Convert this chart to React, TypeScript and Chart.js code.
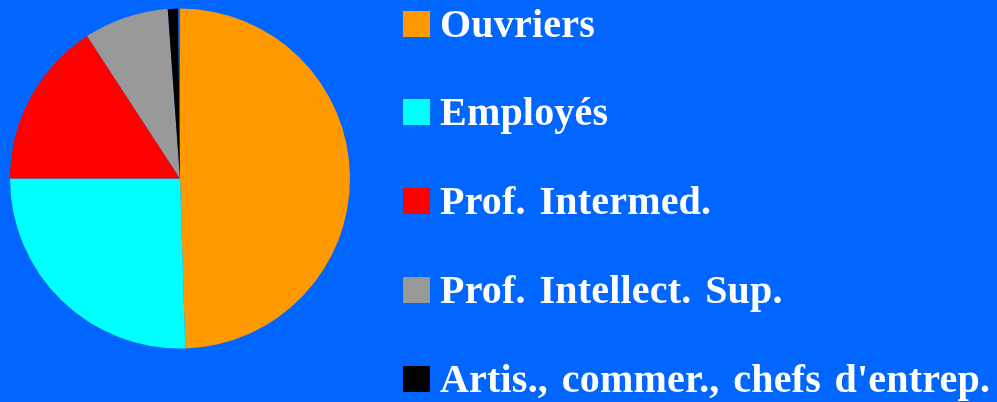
import React, { useEffect, useRef } from 'react';
import { Chart, registerables } from 'chart.js';

Chart.register(...registerables);

const categories = [
  'Ouvriers',
  'Employés',
  'Prof. Intermed.',
  'Prof. Intellect. Sup.',
  "Artis., commer., chefs d'entrep.",
  '',
];
const shares = [49.5, 25.5, 15.8, 8.05, 0.98, 0.17];
const colors = ['#FF9900', '#00FFFF', '#FF0000', '#999999', '#000000', '#0066FF'];

const BG = '#0066FF';

const legendPlugin = {
  id: 'sideLegend',
  afterDraw(chart: any) {
    const ctx = chart.ctx as any;
    ctx.save();
    ctx.font = 'bold 40px "Liberation Serif", "Times New Roman", serif';
    ctx.textBaseline = 'alphabetic';
    ctx.textAlign = 'left';
    if ('letterSpacing' in ctx) ctx.letterSpacing = '0.2px';
    if ('wordSpacing' in ctx) ctx.wordSpacing = '3.5px';
    const labels = chart.data.labels as string[];
    const bgs = chart.data.datasets[0].backgroundColor as string[];
    let row = 0;
    labels.forEach((lab, i) => {
      if (!lab) return;
      const base = 36.7 + row * 88.75;
      ctx.fillStyle = bgs[i];
      ctx.fillRect(403, Math.round(base - 26), 27, 26);
      ctx.fillStyle = '#FFFFFF';
      ctx.fillText(lab, 440, Math.round(base));
      row++;
    });
    ctx.restore();
  },
};

export default function App() {
  const ref = useRef<HTMLCanvasElement>(null);
  useEffect(() => {
    if (!ref.current) return;
    const chart = new Chart(ref.current, {
      type: 'pie',
      data: {
        labels: categories,
        datasets: [
          {
            data: shares,
            backgroundColor: colors,
            borderWidth: 0,
            hoverOffset: 0,
          },
        ],
      },
      options: {
        animation: false,
        responsive: true,
        maintainAspectRatio: false,
        layout: { padding: { left: 10, right: 647, top: 8.5, bottom: 53.5 } },
        plugins: {
          legend: { display: false },
          tooltip: { enabled: false },
        },
      },
      plugins: [legendPlugin],
    });
    return () => chart.destroy();
  }, []);
  return (
    <div
      style={{
        position: 'fixed',
        left: 0,
        top: 0,
        width: 997,
        height: 402,
        background: BG,
      }}
    >
      <canvas ref={ref} />
    </div>
  );
}
